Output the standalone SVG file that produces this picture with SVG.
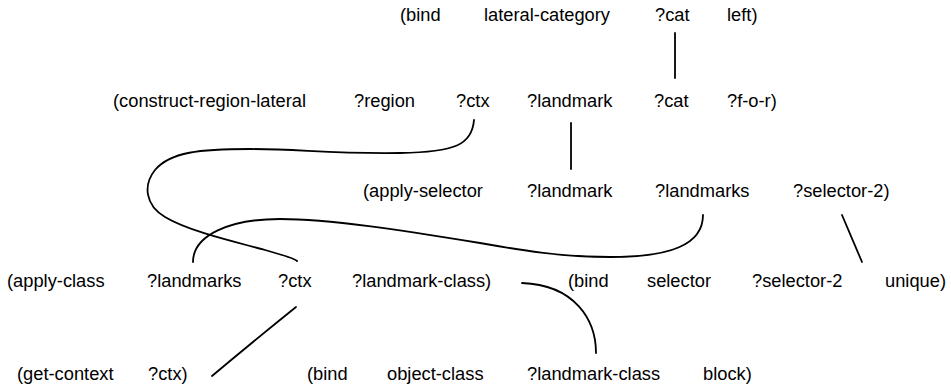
<svg xmlns="http://www.w3.org/2000/svg" width="951" height="387" viewBox="0 0 951 387">
<style>
text{font-family:"Liberation Sans",Arial,sans-serif;font-size:18.3px;fill:#000}
.c{fill:none;stroke:#000;stroke-width:1.8;stroke-linecap:round}
</style>
<rect width="951" height="387" fill="#fff"/>
<g id="r1-bind"><text x="400" y="21">(bind</text></g>
<g id="r1-lateral-category"><text x="484" y="21">lateral-category</text></g>
<g id="r1-cat"><text x="655" y="21">?cat</text></g>
<g id="r1-left"><text x="727" y="21">left)</text></g>

<g id="r2-construct"><text x="113" y="107">(construct-region-lateral</text></g>
<g id="r2-region"><text x="354" y="107">?region</text></g>
<g id="r2-ctx"><text x="456" y="107">?ctx</text></g>
<g id="r2-landmark"><text x="527" y="107">?landmark</text></g>
<g id="r2-cat"><text x="654" y="107">?cat</text></g>
<g id="r2-for"><text x="727" y="107">?f-o-r)</text></g>

<g id="r3-apply-selector"><text x="363" y="197">(apply-selector</text></g>
<g id="r3-landmark"><text x="527" y="197">?landmark</text></g>
<g id="r3-landmarks"><text x="655" y="197">?landmarks</text></g>
<g id="r3-selector2"><text x="793" y="197">?selector-2)</text></g>

<g id="r4-apply-class"><text x="7" y="287">(apply-class</text></g>
<g id="r4-landmarks"><text x="147" y="287">?landmarks</text></g>
<g id="r4-ctx"><text x="278" y="287">?ctx</text></g>
<g id="r4-landmark-class"><text x="352" y="287">?landmark-class)</text></g>
<g id="r4-bind"><text x="568" y="287">(bind</text></g>
<g id="r4-selector"><text x="647" y="287">selector</text></g>
<g id="r4-selector2"><text x="752" y="287">?selector-2</text></g>
<g id="r4-unique"><text x="885" y="287">unique)</text></g>

<g id="r5-get-context"><text x="17" y="380">(get-context</text></g>
<g id="r5-ctx"><text x="148" y="380">?ctx)</text></g>
<g id="r5-bind"><text x="307" y="380">(bind</text></g>
<g id="r5-object-class"><text x="387" y="380">object-class</text></g>
<g id="r5-landmark-class"><text x="527" y="380">?landmark-class</text></g>
<g id="r5-block"><text x="703" y="380">block)</text></g>

<g id="connectors">
<path class="c" d="M675,33 L675,78"/>
<path class="c" d="M571,123 L571,169"/>
<path class="c" d="M474,120 C472,145 455,152 400,153 C330,154 300,149 250,149 C200,149 170,152 155,170 C143,185 145,205 165,217 C190,232 240,243 265,250 C285,256 294,258 297,261"/>
<path class="c" d="M703,215 C703,245 670,257 610,257 C560,257 520,250 480,243 C400,230 330,219 280,219 C230,219 193,235 193,262"/>
<path class="c" d="M842,215 L862,262"/>
<path class="c" d="M296,307 Q255,340 212,376"/>
<path class="c" d="M522,283 C575,285 596,320 596,353"/>
</g>
</svg>
